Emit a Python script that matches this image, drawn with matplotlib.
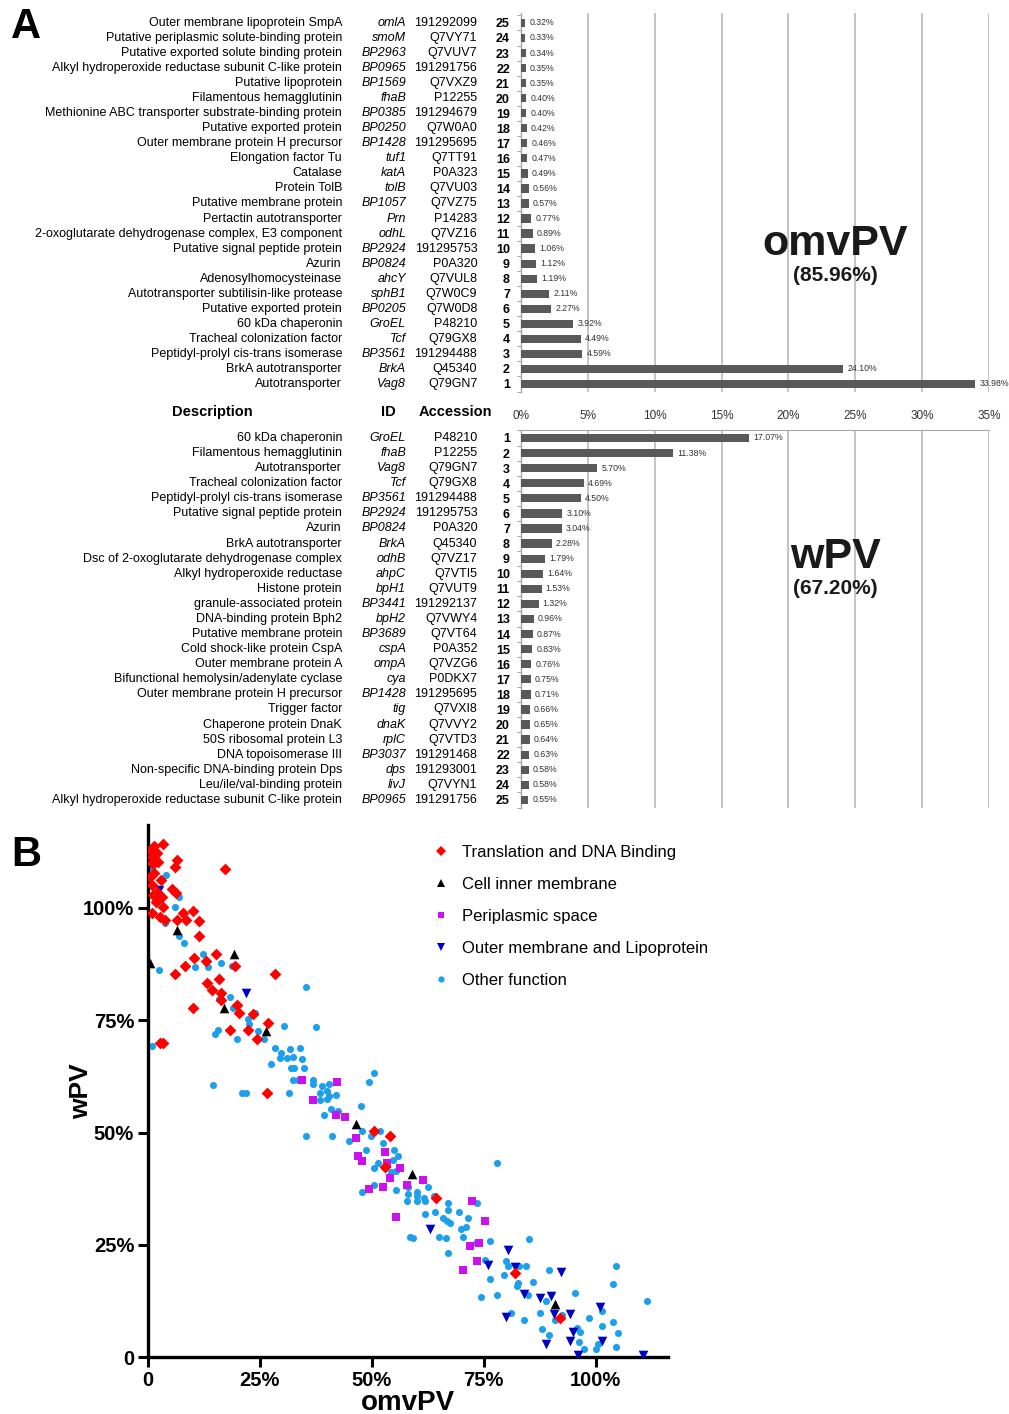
import numpy as np
import matplotlib
matplotlib.use("Agg")
import matplotlib.pyplot as plt
from matplotlib.lines import Line2D
from matplotlib.transforms import blended_transform_factory

plt.rcParams['font.family'] = ['Liberation Sans', 'DejaVu Sans']

# ---- Panel A data: omvPV top 25 (rank 1..25)
desc_omv = ["Autotransporter", "BrkA autotransporter", "Peptidyl-prolyl cis-trans isomerase",
            "Tracheal colonization factor", "60 kDa chaperonin", "Putative exported protein",
            "Autotransporter subtilisin-like protease", "Adenosylhomocysteinase", "Azurin",
            "Putative signal peptide protein", "2-oxoglutarate dehydrogenase complex, E3 component",
            "Pertactin autotransporter", "Putative membrane protein", "Protein TolB", "Catalase",
            "Elongation factor Tu", "Outer membrane protein H precursor", "Putative exported protein",
            "Methionine ABC transporter substrate-binding protein", "Filamentous hemagglutinin",
            "Putative lipoprotein", "Alkyl hydroperoxide reductase subunit C-like protein",
            "Putative exported solute binding protein", "Putative periplasmic solute-binding protein",
            "Outer membrane lipoprotein SmpA"]
id_omv = ["Vag8", "BrkA", "BP3561", "Tcf", "GroEL", "BP0205", "sphB1", "ahcY", "BP0824", "BP2924",
          "odhL", "Prn", "BP1057", "tolB", "katA", "tuf1", "BP1428", "BP0250", "BP0385", "fhaB",
          "BP1569", "BP0965", "BP2963", "smoM", "omlA"]
acc_omv = ["Q79GN7", "Q45340", "191294488", "Q79GX8", "P48210", "Q7W0D8", "Q7W0C9", "Q7VUL8",
           "P0A320", "191295753", "Q7VZ16", "P14283", "Q7VZ75", "Q7VU03", "P0A323", "Q7TT91",
           "191295695", "Q7W0A0", "191294679", "P12255", "Q7VXZ9", "191291756", "Q7VUV7",
           "Q7VY71", "191292099"]
val_omv = [33.98, 24.10, 4.59, 4.49, 3.92, 2.27, 2.11, 1.19, 1.12, 1.06, 0.89, 0.77, 0.57,
           0.56, 0.49, 0.47, 0.46, 0.42, 0.40, 0.40, 0.35, 0.35, 0.34, 0.33, 0.32]

# ---- wPV top 25
desc_wpv = ["60 kDa chaperonin", "Filamentous hemagglutinin", "Autotransporter",
            "Tracheal colonization factor", "Peptidyl-prolyl cis-trans isomerase",
            "Putative signal peptide protein", "Azurin", "BrkA autotransporter",
            "Dsc of 2-oxoglutarate dehydrogenase complex", "Alkyl hydroperoxide reductase",
            "Histone protein", "granule-associated protein", "DNA-binding protein Bph2",
            "Putative membrane protein", "Cold shock-like protein CspA", "Outer membrane protein A",
            "Bifunctional hemolysin/adenylate cyclase", "Outer membrane protein H precursor",
            "Trigger factor", "Chaperone protein DnaK", "50S ribosomal protein L3",
            "DNA topoisomerase III", "Non-specific DNA-binding protein Dps",
            "Leu/ile/val-binding protein", "Alkyl hydroperoxide reductase subunit C-like protein"]
id_wpv = ["GroEL", "fhaB", "Vag8", "Tcf", "BP3561", "BP2924", "BP0824", "BrkA", "odhB", "ahpC",
          "bpH1", "BP3441", "bpH2", "BP3689", "cspA", "ompA", "cya", "BP1428", "tig", "dnaK",
          "rplC", "BP3037", "dps", "livJ", "BP0965"]
acc_wpv = ["P48210", "P12255", "Q79GN7", "Q79GX8", "191294488", "191295753", "P0A320", "Q45340",
           "Q7VZ17", "Q7VTI5", "Q7VUT9", "191292137", "Q7VWY4", "Q7VT64", "P0A352", "Q7VZG6",
           "P0DKX7", "191295695", "Q7VXI8", "Q7VVY2", "Q7VTD3", "191291468", "191293001",
           "Q7VYN1", "191291756"]
val_wpv = [17.07, 11.38, 5.70, 4.69, 4.50, 3.10, 3.04, 2.28, 1.79, 1.64, 1.53, 1.32, 0.96,
           0.87, 0.83, 0.76, 0.75, 0.71, 0.66, 0.65, 0.64, 0.63, 0.58, 0.58, 0.55]

# ---- Panel B data (omvPV %, wPV %)
trans_x = [3.4, 1.3, 0.4, 1.9, 0.8, 6.4, 1.6, 2.3, 6.0, 1.0, 17.3, 0.4, 1.3, 2.9, 0.8, 5.3, 6.3,
           2.1, 1.2, 3.1, 1.8, 3.4, 0.8, 2.7, 3.8, 6.4, 7.9, 8.5, 10.0, 11.4, 11.4, 8.3, 10.3,
           6.0, 12.9, 15.3, 19.4, 15.9, 13.2, 14.4, 16.4, 16.4, 19.8, 20.4, 23.5, 10.0, 26.9,
           22.4, 18.3, 24.4, 28.4, 2.7, 3.3, 26.5, 50.4, 54.0, 52.9, 64.4, 81.9, 92.0]
trans_y = [114.3, 113.7, 112.9, 112.2, 111.4, 110.8, 110.3, 110.3, 109.2, 110.0, 108.7, 107.0,
           107.7, 106.2, 105.1, 104.2, 103.4, 103.6, 102.9, 102.5, 101.4, 100.3, 98.8, 98.1,
           97.3, 97.3, 98.8, 97.3, 99.4, 97.2, 93.8, 87.1, 88.8, 85.3, 88.3, 89.8, 87.1, 84.2,
           83.2, 81.7, 81.1, 79.5, 78.4, 76.7, 76.4, 77.8, 74.3, 72.8, 72.8, 70.8, 85.2, 69.9,
           69.9, 58.7, 50.3, 49.3, 42.4, 35.5, 18.8, 8.8]

inner_x = [6.4, 19.3, 0.4, 17.0, 26.3, 46.4, 58.9, 91.0]
inner_y = [95.1, 89.7, 87.8, 77.7, 72.7, 51.8, 40.8, 11.8]

peri_x = [34.3, 42.3, 36.9, 42.0, 44.0, 46.4, 52.9, 46.9, 47.9, 56.4, 53.4, 54.0, 61.5, 57.9,
          52.4, 49.4, 55.4, 72.5, 75.4, 71.9, 74.0, 73.5, 70.4]
peri_y = [61.8, 61.3, 57.2, 53.9, 53.4, 48.7, 45.7, 44.8, 43.7, 42.2, 43.3, 39.8, 39.4, 38.3,
          37.8, 37.4, 31.2, 34.8, 30.3, 24.7, 25.3, 21.4, 19.3]

outer_x = [2.5, 21.9, 62.9, 80.4, 76.0, 81.9, 92.3, 83.9, 87.5, 90.1, 79.9, 90.8, 94.4, 100.9,
           94.9, 94.4, 89.0, 101.5, 96.1, 110.6]
outer_y = [104.0, 81.0, 28.4, 23.8, 20.5, 20.1, 19.0, 14.0, 13.1, 13.6, 9.0, 9.6, 9.6, 11.1,
           5.6, 3.6, 2.9, 3.6, 0.4, 0.4]

other_x = [0.8, 4.0, 7.0, 6.0, 3.8, 6.9, 8.0, 12.3, 10.5, 13.5, 12.9, 16.4, 2.5, 18.8, 15.9,
           18.3, 19.0, 22.4, 23.9, 22.6, 24.5, 19.8, 25.9, 15.6, 15.0, 30.4, 28.3, 29.8, 31.8,
           33.9, 35.4, 37.5, 0.8, 29.5, 31.0, 32.4, 14.5, 21.0, 22.0, 31.4, 27.4, 34.4, 31.9,
           32.6, 34.9, 50.4, 49.4, 32.4, 33.5, 36.9, 36.9, 38.8, 40.4, 38.4, 39.9, 40.5, 42.0,
           38.4, 39.9, 40.8, 42.5, 39.4, 47.5, 35.4, 41.0, 44.9, 47.9, 49.9, 51.9, 52.4, 48.8,
           54.9, 55.9, 54.8, 51.4, 50.4, 54.2, 55.5, 50.4, 47.9, 55.4, 58.1, 60.0, 62.6, 58.1,
           60.0, 61.7, 63.8, 78.0, 60.0, 57.9, 61.8, 67.0, 67.0, 73.5, 61.8, 64.1, 65.9, 66.7,
           67.4, 69.5, 71.5, 70.0, 71.0, 70.4, 58.5, 59.1, 65.0, 66.5, 67.0, 76.5, 85.1, 73.2,
           75.4, 79.9, 80.4, 83.0, 84.5, 79.5, 76.5, 82.7, 82.4, 86.0, 89.6, 104.5, 103.9, 74.5,
           78.0, 84.9, 89.0, 95.5, 101.5, 111.5, 81.0, 83.9, 87.5, 91.0, 92.6, 98.5, 103.9,
           101.5, 105.0, 88.0, 89.6, 95.9, 96.6, 96.4, 97.5, 100.0, 100.5, 104.5]
other_y = [108.8, 107.3, 102.4, 100.2, 96.7, 93.8, 92.3, 89.8, 86.8, 86.9, 88.0, 87.7, 86.2,
           87.1, 79.7, 80.2, 77.7, 75.2, 76.7, 74.2, 72.7, 70.8, 70.8, 72.8, 71.9, 73.8, 68.8,
           67.8, 68.5, 68.8, 82.3, 73.4, 69.3, 66.5, 66.5, 66.9, 60.6, 58.7, 58.7, 58.7, 65.3,
           66.3, 64.3, 64.3, 64.3, 63.3, 61.3, 61.8, 61.8, 61.8, 60.8, 60.4, 60.8, 58.9, 59.3,
           58.1, 58.4, 57.2, 57.4, 55.3, 54.9, 53.8, 55.8, 49.3, 49.3, 48.2, 50.3, 49.3, 50.3,
           47.7, 46.2, 46.2, 44.8, 43.9, 43.3, 42.2, 41.2, 41.5, 38.3, 36.8, 37.3, 37.8, 36.8,
           37.8, 36.3, 35.9, 35.5, 35.9, 43.3, 34.8, 34.8, 34.8, 34.3, 32.7, 34.3, 31.9, 32.4,
           30.9, 30.4, 29.8, 32.4, 30.9, 28.4, 28.9, 26.7, 26.8, 26.4, 26.8, 26.4, 23.2, 25.8,
           26.3, 25.3, 21.7, 21.4, 20.3, 20.3, 20.3, 18.3, 17.3, 16.5, 15.8, 16.8, 19.3, 20.3,
           16.3, 13.3, 13.8, 13.8, 12.4, 14.3, 10.3, 12.4, 9.9, 8.2, 9.9, 8.2, 9.4, 8.8, 7.9,
           6.8, 5.4, 6.2, 4.9, 6.4, 5.5, 3.4, 1.8, 1.8, 2.9, 2.3]

fig = plt.figure(figsize=(10.09, 14.14), dpi=100)

bar_col = '#595959'
grid_col = '#c4c4c4'
narrow = ['Liberation Sans Narrow', 'Liberation Sans', 'DejaVu Sans']


def bar_panel(ax, vals, descs, ids, accs, inverted):
    ranks = np.arange(1, len(vals) + 1)
    ax.barh(ranks, vals, height=0.55, color=bar_col, zorder=3)
    for r, v in zip(ranks, vals):
        ax.text(v + 0.3, r, '%.2f%%' % v, va='center', ha='left', fontsize=6.3,
                family=narrow, color='#333333')
    ax.set_xlim(0, 35)
    if inverted:
        ax.set_ylim(25.53, 0.47)
    else:
        ax.set_ylim(0.47, 25.66)
    ax.set_xticks(np.arange(0, 36, 5))
    ax.grid(axis='x', color=grid_col, lw=1.4, zorder=0)
    for s in ['right', 'bottom', 'top']:
        ax.spines[s].set_visible(False)
    ax.spines['left'].set_color('#a8a8a8')
    ax.spines['left'].set_linewidth(1.0)
    ax.set_yticks(ranks)
    ax.set_yticklabels([str(r) for r in ranks], fontsize=9, fontweight='bold')
    ax.set_yticks(np.arange(0.5, 26, 1), minor=True)
    ax.tick_params(axis='y', which='major', length=0, pad=8)
    ax.tick_params(axis='y', which='minor', length=3, color='#a8a8a8', width=0.8)
    # table columns to the left
    tr = blended_transform_factory(fig.transFigure, ax.transData)
    for r, d, i, a in zip(ranks, descs, ids, accs):
        ax.text(0.339, r, d, transform=tr, ha='right', va='center', fontsize=9)
        ax.text(0.4025, r, i, transform=tr, ha='right', va='center', fontsize=9,
                style='italic')
        ax.text(0.473, r, a, transform=tr, ha='right', va='center', fontsize=9)


ax_top = fig.add_axes([0.5164, 0.7228, 0.4638, 0.268])
bar_panel(ax_top, val_omv, desc_omv, id_omv, acc_omv, False)
ax_top.tick_params(axis='x', length=0, pad=13, labelsize=8.5, labelcolor='#333333')
ax_top.xaxis.set_major_formatter(matplotlib.ticker.FuncFormatter(lambda v, p: '%d%%' % v))
ax_top.text(23.5, 10.3, 'omvPV', ha='center', va='center', fontsize=31, fontweight='bold',
            color='#1a1a1a')
ax_top.text(23.5, 8.2, '(85.96%)', ha='center', va='center', fontsize=15, fontweight='bold',
            color='#1a1a1a')

ax_bot = fig.add_axes([0.5164, 0.4286, 0.4638, 0.2673])
bar_panel(ax_bot, val_wpv, desc_wpv, id_wpv, acc_wpv, True)
ax_bot.spines['top'].set_visible(True)
ax_bot.spines['top'].set_color('#a8a8a8')
ax_bot.tick_params(axis='x', length=0, labelbottom=False)
ax_bot.text(23.5, 8.9, 'wPV', ha='center', va='center', fontsize=31, fontweight='bold',
            color='#1a1a1a')
ax_bot.text(23.5, 11.0, '(67.20%)', ha='center', va='center', fontsize=15, fontweight='bold',
            color='#1a1a1a')

# table headers
hy = 1 - 412 / 1414
fig.text(0.210, hy, 'Description', ha='center', va='center', fontsize=10.5, fontweight='bold')
fig.text(0.3845, hy, 'ID', ha='center', va='center', fontsize=10.5, fontweight='bold')
fig.text(0.451, hy, 'Accession', ha='center', va='center', fontsize=10.5, fontweight='bold')

fig.text(0.026, 1 - 27 / 1414, 'A', ha='center', va='center', fontsize=30, fontweight='bold')
fig.text(0.026, 1 - 855 / 1414, 'B', ha='center', va='center', fontsize=30, fontweight='bold')

# ---- Panel B scatter
ax = fig.add_axes([0.1467, 0.0403, 0.5154, 0.3763])
ax.scatter(other_x, other_y, s=26, marker='o', color='#1ca0ec', lw=0, zorder=2)
ax.scatter(peri_x, peri_y, s=26, marker='s', color='#cc11ee', lw=0, zorder=3)
ax.scatter(outer_x, outer_y, s=48, marker='v', color='#0000c0', lw=0, zorder=3)
ax.scatter(inner_x, inner_y, s=48, marker='^', color='black', lw=0, zorder=4)
ax.scatter(trans_x, trans_y, s=36, marker='D', color='#ff0000', lw=0, zorder=5)
ax.set_xlim(0, 116.2)
ax.set_ylim(0, 118.5)
ax.set_xticks([0, 25, 50, 75, 100])
ax.set_yticks([0, 25, 50, 75, 100])
ax.set_xticklabels(['0', '25%', '50%', '75%', '100%'], fontsize=14.5, fontweight='bold')
ax.set_yticklabels(['0', '25%', '50%', '75%', '100%'], fontsize=14.5, fontweight='bold')
for s in ['top', 'right']:
    ax.spines[s].set_visible(False)
for s in ['left', 'bottom']:
    ax.spines[s].set_linewidth(2.4)
ax.tick_params(length=7, width=2.2, pad=3)
ax.set_xlabel('omvPV', fontsize=20, fontweight='bold', labelpad=0)
ax.set_ylabel('wPV', fontsize=19, fontweight='bold', labelpad=-7)

handles = [
    Line2D([], [], ls='none', marker='D', ms=5, color='#ff0000', mew=0),
    Line2D([], [], ls='none', marker='^', ms=6, color='black', mew=0),
    Line2D([], [], ls='none', marker='s', ms=4.5, color='#cc11ee', mew=0),
    Line2D([], [], ls='none', marker='v', ms=6, color='#0000c0', mew=0),
    Line2D([], [], ls='none', marker='o', ms=4.5, color='#1ca0ec', mew=0),
]
labels = ['Translation and DNA Binding', 'Cell inner membrane', 'Periplasmic space',
          'Outer membrane and Lipoprotein', 'Other function']
fig.legend(handles, labels, loc='upper left', bbox_to_anchor=(0.429, 0.4022), frameon=False,
           fontsize=12, handlelength=1.0, handletextpad=0.75, labelspacing=1.02,
           borderpad=0, borderaxespad=0)

fig.savefig('out.png', dpi=100)
